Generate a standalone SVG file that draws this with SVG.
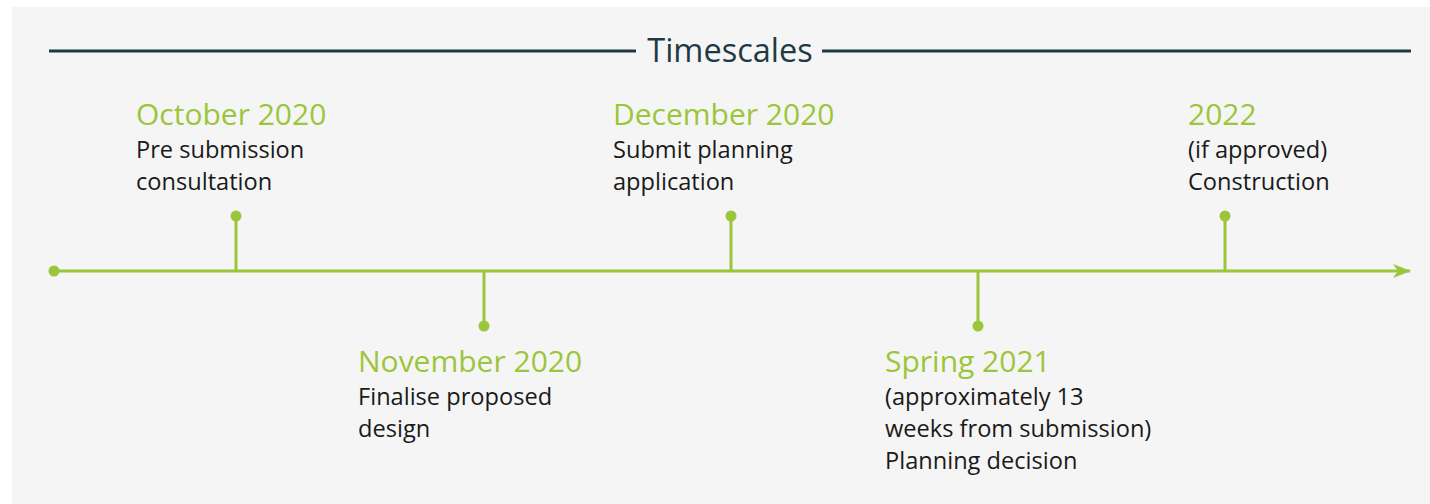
<svg xmlns="http://www.w3.org/2000/svg" width="1430" height="504" viewBox="0 0 1430 504">
<defs>
<style>
.bg{fill:#f5f5f5}
.rule{stroke:#1f3a42;stroke-width:3;fill:none}
.title{font-family:"Open Sans","Noto Sans",sans-serif;font-size:32.5px;fill:#1f3a42}
.line{stroke:#9bc63a;stroke-width:3;fill:none}
.dot{fill:#9bc63a}
.head{font-family:"Open Sans","Noto Sans",sans-serif;font-size:30px;fill:#9bc63a}
.body{font-family:"Open Sans","Noto Sans",sans-serif;font-size:23.6px;fill:#1a1a1a}
</style>
<marker id="arrow" viewBox="0 0 18 14" refX="17" refY="7" markerWidth="18" markerHeight="14" markerUnits="userSpaceOnUse" orient="auto">
<path d="M0,0 L18,7 L0,14 L5,7 Z" fill="#9bc63a"/>
</marker>
</defs>
<rect x="0" y="0" width="1430" height="504" fill="#ffffff"/>
<rect class="bg" x="12" y="7" width="1418" height="497"/>
<g id="title">
<line class="rule" x1="49" y1="51" x2="636" y2="51"/>
<line class="rule" x1="822" y1="51" x2="1411" y2="51"/>
<text class="title" x="730" y="62" text-anchor="middle">Timescales</text>
</g>
<g id="connectors">
<line class="line" x1="54" y1="271" x2="1410" y2="271" marker-end="url(#arrow)"/>
<circle class="dot" cx="54" cy="271" r="5.5"/>
<line class="line" x1="236" y1="216" x2="236" y2="271"/>
<line class="line" x1="484" y1="271" x2="484" y2="326"/>
<line class="line" x1="731" y1="216" x2="731" y2="271"/>
<line class="line" x1="978" y1="271" x2="978" y2="326"/>
<line class="line" x1="1225" y1="216" x2="1225" y2="271"/>
</g>
<g id="oct2020">
<circle class="dot" cx="236" cy="216" r="5.5"/>
<text class="head" x="136" y="125">October 2020</text>
<text class="body" x="136" y="158">Pre submission</text>
<text class="body" x="136" y="190">consultation</text>
</g>
<g id="nov2020">
<circle class="dot" cx="484" cy="326" r="5.5"/>
<text class="head" x="358" y="372">November 2020</text>
<text class="body" x="358" y="405">Finalise proposed</text>
<text class="body" x="358" y="437">design</text>
</g>
<g id="dec2020">
<circle class="dot" cx="731" cy="216" r="5.5"/>
<text class="head" x="613" y="125">December 2020</text>
<text class="body" x="613" y="158">Submit planning</text>
<text class="body" x="613" y="190">application</text>
</g>
<g id="spring2021">
<circle class="dot" cx="978" cy="326" r="5.5"/>
<text class="head" x="885" y="372">Spring 2021</text>
<text class="body" x="885" y="405">(approximately 13</text>
<text class="body" x="885" y="437">weeks from submission)</text>
<text class="body" x="885" y="469">Planning decision</text>
</g>
<g id="y2022">
<circle class="dot" cx="1225" cy="216" r="5.5"/>
<text class="head" x="1188" y="125">2022</text>
<text class="body" x="1188" y="158">(if approved)</text>
<text class="body" x="1188" y="190">Construction</text>
</g>
</svg>
